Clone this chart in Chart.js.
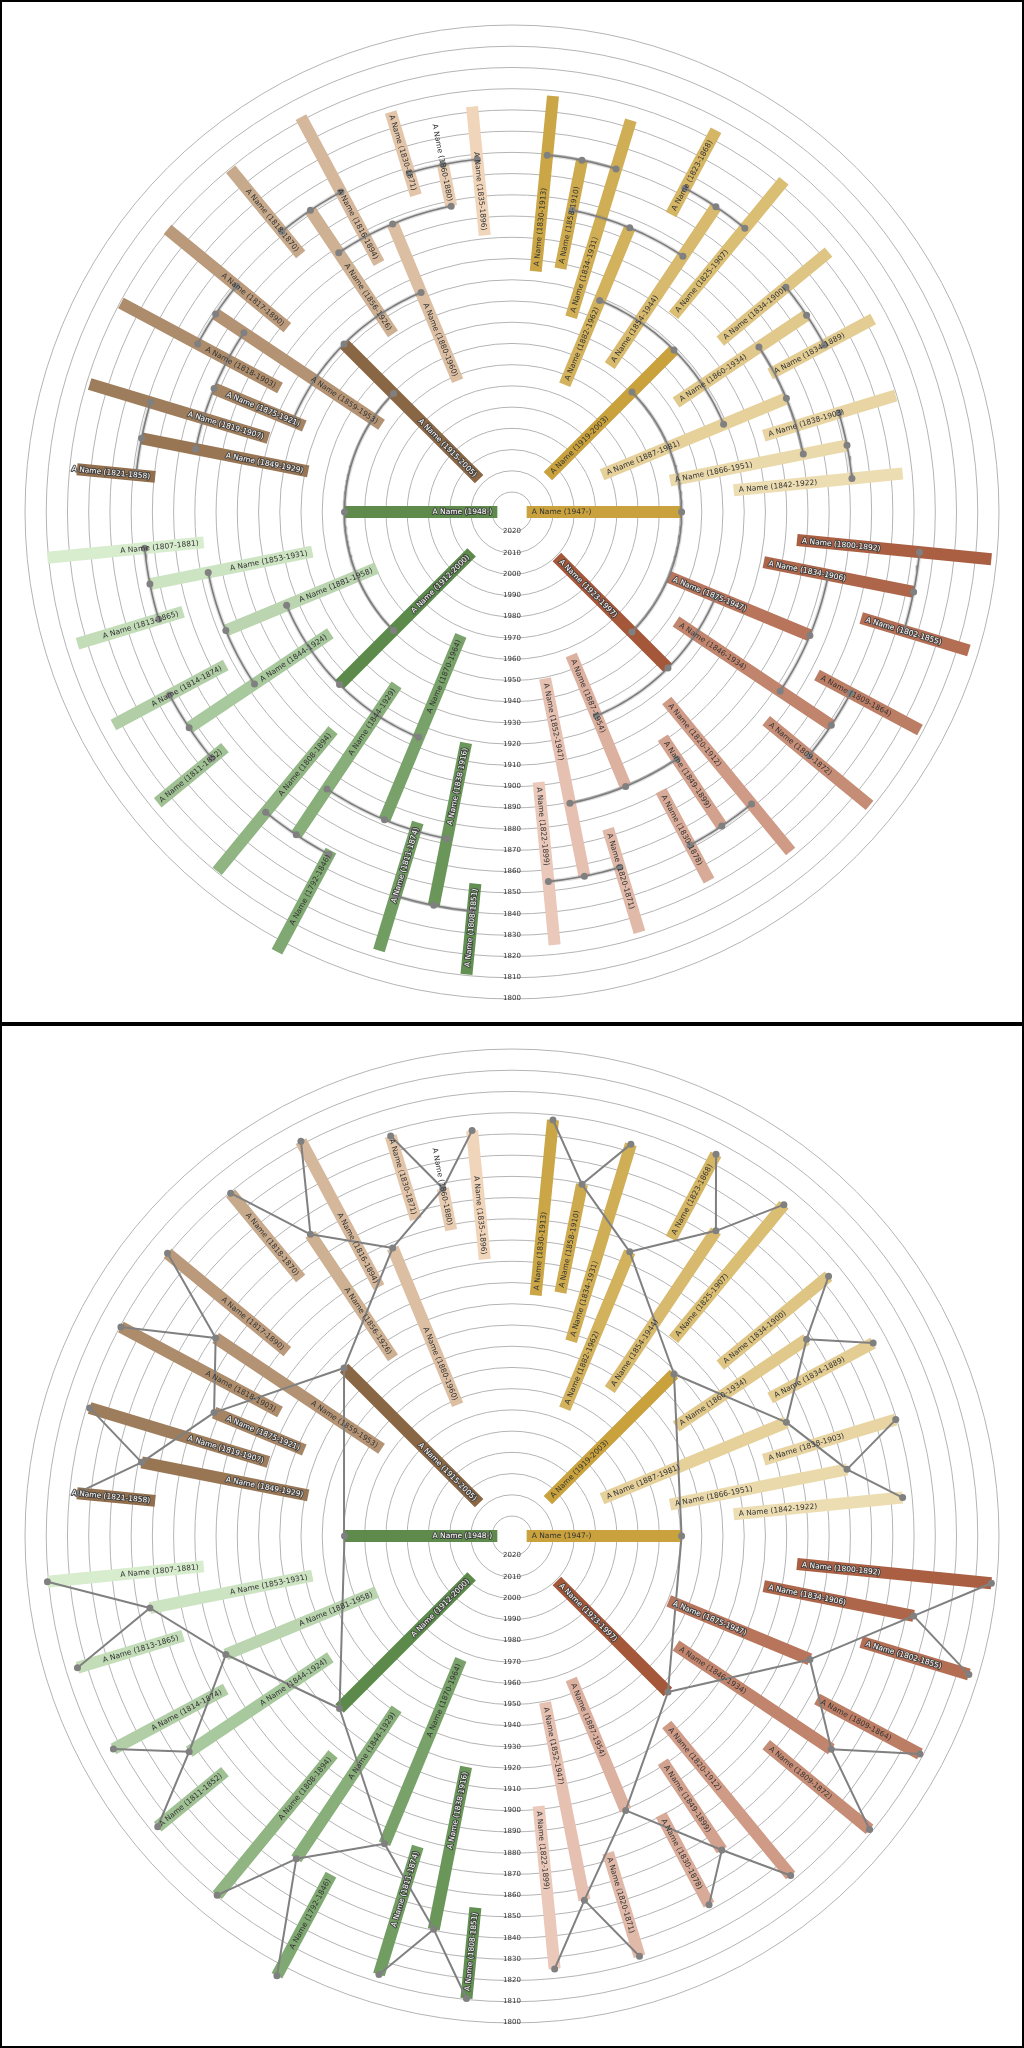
<!DOCTYPE html>
<html>
<head>
<meta charset="utf-8">
<script src="https://cdn.jsdelivr.net/npm/chart.js@4.4.1/dist/chart.umd.min.js"></script>
<style>
  body { margin: 0; background: #fff; }
  canvas { display: block; }
</style>
</head>
<body>
<canvas id="fanArcs" width="1024" height="1024"></canvas>
<canvas id="fanLines" width="1024" height="1024"></canvas>
<script>
"use strict"

// Stammtavla, index = ahnentafel-nummer - 1 (0 = huvudperson)
const goldBirth = [1947, 1919, 1923, 1882, 1887, 1875, 1887, 1858, 1854, 1860, 1866, 1834, 1846, 1849, 1852,
                   1830, 1834, 1823, 1825, 1834, 1834, 1838, 1842, 1800, 1802, 1809, 1809, 1820, 1830, 1820, 1822];
const goldDeath = [null, 2003, 1997, 1962, 1981, 1947, 1954, 1910, 1944, 1934, 1951, 1906, 1934, 1899, 1947,
                   1913, 1931, 1868, 1907, 1900, 1889, 1903, 1922, 1892, 1855, 1864, 1872, 1912, 1878, 1871, 1899];
const greenBirth = [1948, 1915, 1912, 1880, 1875, 1881, 1870, 1860, 1856, 1859, 1849, 1853, 1844, 1844, 1838,
                    1835, 1830, 1816, 1818, 1817, 1818, 1819, 1821, 1807, 1813, 1814, 1811, 1808, 1792, 1811, 1808];
const greenDeath = [null, 2005, 2000, 1960, 1921, 1958, 1964, 1880, 1926, 1953, 1929, 1931, 1924, 1929, 1916,
                    1896, 1871, 1894, 1870, 1890, 1903, 1907, 1858, 1881, 1865, 1874, 1852, 1894, 1846, 1874, 1851];
const ringYears = [2020, 2010, 2000, 1990, 1980, 1970, 1960, 1950, 1940, 1930, 1920, 1910,
                   1900, 1890, 1880, 1870, 1860, 1850, 1840, 1830, 1820, 1810, 1800];

const NOW = 2020;
const ZERO = 2026.9;          // år som hamnar i mitten
const R = 239.3;              // skalans halvbredd i år

function rho(year) { return ZERO - year; }
function pt(r, deg) {
    const a = deg * Math.PI / 180;
    return { x: r * Math.cos(a), y: r * Math.sin(a) };
}

function hex(h) { return [1, 3, 5].map(i => parseInt(h.substr(i, 2), 16)); }
function mix(c1, c2, t) {
    const a = hex(c1), b = hex(c2);
    return a.map((v, i) => Math.round(v + (b[i] - v) * t));
}
function lum(c) { return (0.299 * c[0] + 0.587 * c[1] + 0.114 * c[2]) / 255; }

//bygg personer ur arrayerna
function buildPeople(births, deaths, side) {
    const people = [];
    for (let i = 0; i < births.length; i++) {
        const k = i + 1;
        const g = Math.floor(Math.log2(k));
        const p = k - Math.pow(2, g);
        const step = 180 / Math.pow(2, g);
        const angle = side === "gold" ? 90 - (p + 0.5) * step : 90 + (p + 0.5) * step;
        let col;
        if (side === "gold") {
            if (angle >= 0) col = mix("#efe1ba", "#c9a23e", g <= 1 ? 1 : angle / 90);
            else col = mix("#a5573a", "#efcfc2", g <= 1 ? 0 : -angle / 90);
        } else {
            if (k === 1) col = hex("#5e8a4c");
            else if (angle <= 180) col = mix("#f7dcc2", "#8a6744", g <= 1 ? 1 : (angle - 90) / 90);
            else col = mix("#e4f7dc", "#5b8a4a", g <= 1 ? 1 : Math.pow((angle - 180) / 90, 0.85));
        }
        people.push({
            k: k,
            birth: births[i],
            death: deaths[i],
            angle: angle,
            color: "rgb(" + col.join(",") + ")",
            light: lum(col) > 0.55,
            label: "A Name (" + births[i] + "-" + (deaths[i] === null ? "" : deaths[i]) + ")"
        });
    }
    return people;
}

const people = buildPeople(goldBirth, goldDeath, "gold").concat(buildPeople(greenBirth, greenDeath, "green"));
const gold = people.slice(0, goldBirth.length);
const green = people.slice(goldBirth.length);

function barDatasets() {
    return people.map(p => ({
        data: [pt(rho(p.death === null ? NOW : p.death), p.angle), pt(rho(p.birth), p.angle)],
        showLine: true,
        borderColor: p.color,
        borderWidth: 12,
        borderCapStyle: "butt",
        pointRadius: 0,
        order: 2
    }));
}

// kopplingar barn -> föräldrar
function links(tree) {
    const out = [];
    tree.forEach(p => {
        const f = tree[2 * p.k - 1], m = tree[2 * p.k];
        if (f && m) out.push([p, f, m]);
    });
    return out;
}
const allLinks = links(gold).concat(links(green));

function arcDatasets() {
    const sets = [];
    const dots = [];
    allLinks.forEach(([c, f, m]) => {
        const r = rho(c.birth);
        const pts = [];
        const n = Math.max(8, Math.ceil(Math.abs(f.angle - m.angle)));
        for (let i = 0; i <= n; i++) pts.push(pt(r, f.angle + (m.angle - f.angle) * i / n));
        sets.push({ data: pts, showLine: true, borderColor: "rgba(120,120,120,0.25)", borderWidth: 4, pointRadius: 0, order: 1 });
        sets.push({ data: pts, showLine: true, borderColor: "#7c7c7c", borderWidth: 1.6, pointRadius: 0, order: 0 });
        dots.push(pt(r, f.angle), pt(r, m.angle), pt(r, c.angle));
    });
    sets.push({ data: dots, pointRadius: 3.5, pointBackgroundColor: "#808080", pointBorderWidth: 0, order: -1 });
    return sets;
}

function lineDatasets() {
    const sets = [];
    allLinks.forEach(([c, f, m]) => {
        [f, m].forEach(par => {
            sets.push({
                data: [pt(rho(c.birth), c.angle), pt(rho(par.birth), par.angle)],
                showLine: true, borderColor: "#808080", borderWidth: 2, pointRadius: 0, order: 0
            });
        });
    });
    sets.push({
        data: people.map(p => pt(rho(p.birth), p.angle)),
        pointRadius: 3.5, pointBackgroundColor: "#808080", pointBorderWidth: 0, order: -1
    });
    return sets;
}

/*---------------------------------*/

//ringar och årtal
const ringPlugin = {
    id: "rings",
    beforeDatasetsDraw(chart) {
        const ctx = chart.ctx;
        const xs = chart.scales.x, ys = chart.scales.y;
        const cx = xs.getPixelForValue(0), cy = ys.getPixelForValue(0);
        ctx.save();
        ctx.strokeStyle = "#b4b4b4";
        ctx.lineWidth = 1;
        ringYears.forEach(y => {
            const r = xs.getPixelForValue(rho(y) + 2.5) - cx;
            ctx.beginPath();
            ctx.arc(cx, cy, r, 0, Math.PI * 2);
            ctx.stroke();
        });
        ctx.restore();
    },
    afterDraw(chart) {
        const ctx = chart.ctx;
        const xs = chart.scales.x, ys = chart.scales.y;
        const cx = xs.getPixelForValue(0), cy = ys.getPixelForValue(0);
        ctx.save();
        ctx.fillStyle = "#333";
        ctx.font = "7px 'DejaVu Sans'";
        ctx.textAlign = "center";
        ctx.textBaseline = "middle";
        ringYears.forEach(y => {
            const r = cy - ys.getPixelForValue(rho(y));
            ctx.fillText(String(y), cx, cy + r + 5);
        });
        ctx.strokeStyle = "#000";
        ctx.lineWidth = 2;
        ctx.strokeRect(1, 1, chart.width - 2, chart.height - 2);
        ctx.restore();
    }
};

//namnetiketter längs staplarna
const labelPlugin = {
    id: "labels",
    afterDatasetsDraw(chart) {
        const ctx = chart.ctx;
        const xs = chart.scales.x, ys = chart.scales.y;
        ctx.save();
        ctx.font = "7.5px 'DejaVu Sans'";
        ctx.textBaseline = "middle";
        people.forEach(p => {
            const inner = rho(p.death === null ? NOW : p.death) + 2.4;
            const q = pt(inner, p.angle);
            const px = xs.getPixelForValue(q.x), py = ys.getPixelForValue(q.y);
            const a = p.angle * Math.PI / 180;
            const right = Math.cos(a) > -0.02;
            ctx.save();
            ctx.translate(px, py);
            if (right) { ctx.rotate(-a); ctx.textAlign = "left"; }
            else { ctx.rotate(Math.PI - a); ctx.textAlign = "right"; }
            if (p.light) {
                ctx.fillStyle = "#333";
                ctx.fillText(p.label, 0, 0.5);
            } else {
                ctx.strokeStyle = "rgba(60,60,60,0.9)";
                ctx.lineWidth = 2;
                ctx.lineJoin = "round";
                ctx.strokeText(p.label, 0, 0.5);
                ctx.fillStyle = "#fff";
                ctx.fillText(p.label, 0, 0.5);
            }
            ctx.restore();
        });
        ctx.restore();
    }
};

function createFan(id, extra) {
    const ctx = document.getElementById(id).getContext("2d");
    new Chart(ctx, {
        type: "scatter",
        data: { datasets: barDatasets().concat(extra) },
        options: {
            responsive: false,
            animation: false,
            devicePixelRatio: 1,
            layout: { padding: 0 },
            plugins: { legend: { display: false }, tooltip: { enabled: false } },
            scales: {
                x: { type: "linear", min: -R, max: R, display: false },
                y: { type: "linear", min: -R, max: R, display: false }
            }
        },
        plugins: [ringPlugin, labelPlugin]
    });
}

createFan("fanArcs", arcDatasets());
createFan("fanLines", lineDatasets());
</script>
</body>
</html>
